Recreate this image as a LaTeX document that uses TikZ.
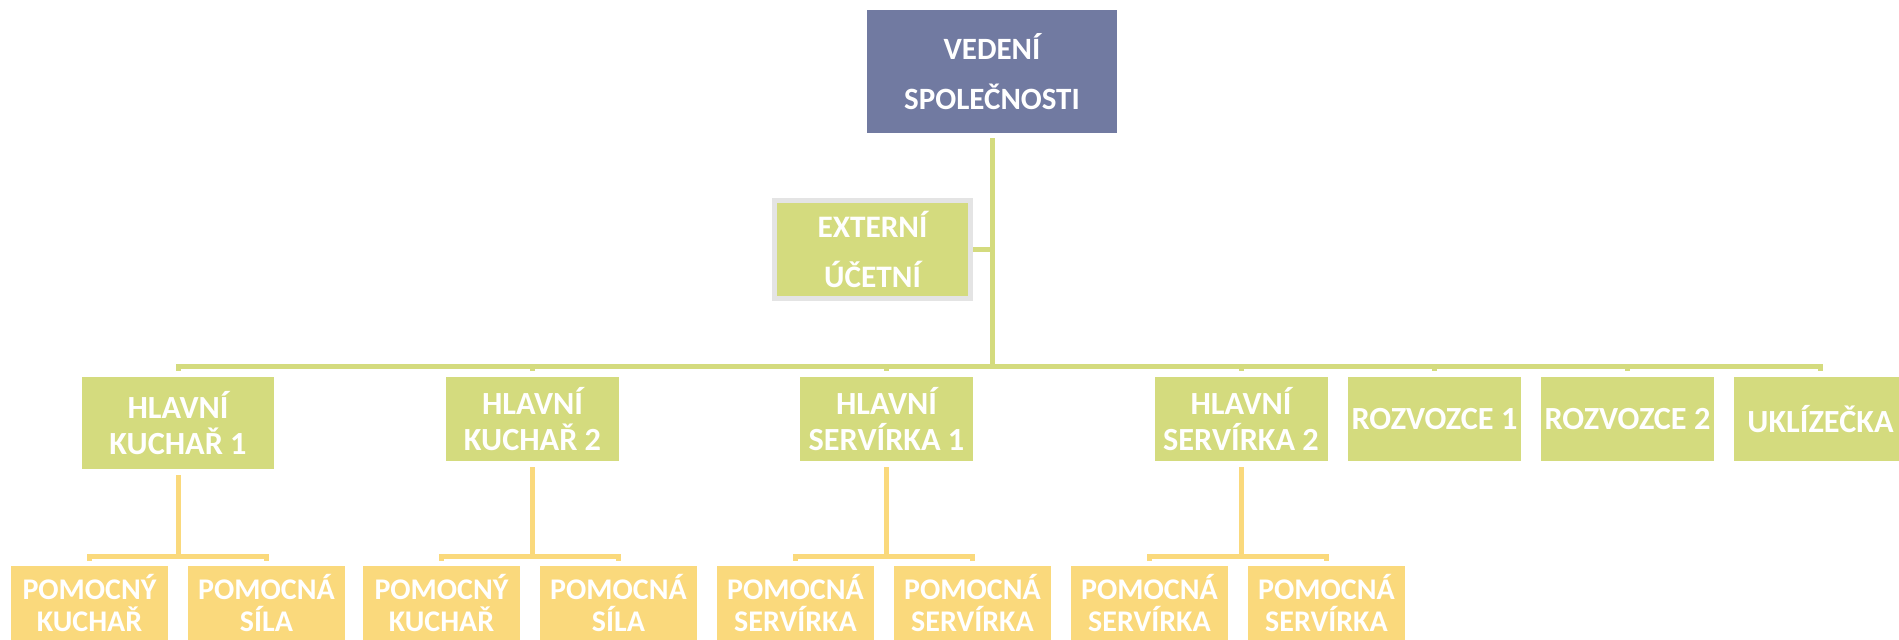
\documentclass[tikz,border=0pt]{standalone}
\usepackage{fontspec}
\setmainfont{Carlito}
\usepackage{xcolor}
\usetikzlibrary{calc}

\definecolor{headblue}{HTML}{717AA1}
\definecolor{leafgreen}{HTML}{D4DB7E}
\definecolor{leafyellow}{HTML}{FAD97C}
\definecolor{framegray}{HTML}{E4E4E4}

\begin{document}
\begin{tikzpicture}[x=1pt,y=1pt,
	box/.style={text=white,align=center,inner sep=0pt},
	headbox/.style={box,fill=headblue,minimum width=250pt,minimum height=123pt,
		font=\fontsize{31}{50}\selectfont\bfseries},
	sidebox/.style={box,fill=leafgreen,draw=framegray,line width=5pt,
		minimum width=196pt,minimum height=98pt,
		font=\fontsize{31.3}{50}\selectfont\bfseries},
	midbox/.style={box,fill=leafgreen,minimum width=173pt,minimum height=84pt,
		font=\fontsize{32.3}{36}\selectfont\bfseries},
	lowbox/.style={box,fill=leafyellow,minimum width=157pt,minimum height=74pt,
		font=\fontsize{30}{31.5}\selectfont\bfseries},
	gline/.style={leafgreen,line width=5pt},
	yline/.style={leafyellow,line width=5pt}]
	\useasboundingbox (0,0) rectangle (1899,-640);
	
	% top level
	\node[headbox] (V) at (992,-71.5) {VEDENÍ\\SPOLEČNOSTI};
	\node[sidebox] (U) at (872.5,-249.5) {EXTERNÍ\\ÚČETNÍ};
	
	% second level
	\node[midbox,minimum width=192pt,minimum height=92pt] (K1) at (178,-423) {HLAVNÍ\\KUCHAŘ 1};
	\node[midbox] (K2) at (532.5,-419) {HLAVNÍ\\KUCHAŘ 2};
	\node[midbox] (S1) at (886.5,-419) {HLAVNÍ\\SERVÍRKA 1};
	\node[midbox] (S2) at (1241,-419) {HLAVNÍ\\SERVÍRKA 2};
	\node[midbox] (R1) at (1434.5,-419) {ROZVOZCE 1};
	\node[midbox] (R2) at (1627.5,-419) {ROZVOZCE 2};
	\node[midbox] (L) at (1820.5,-419) {UKLÍZEČKA};
	
	% third level
	\node[lowbox] (K1a) at (89.5,-603) {POMOCNÝ\\KUCHAŘ};
	\node[lowbox] (K1b) at (266.5,-603) {POMOCNÁ\\SÍLA};
	\node[lowbox] (K2a) at (441.5,-603) {POMOCNÝ\\KUCHAŘ};
	\node[lowbox] (K2b) at (618.5,-603) {POMOCNÁ\\SÍLA};
	\node[lowbox] (S1a) at (795.5,-603) {POMOCNÁ\\SERVÍRKA};
	\node[lowbox] (S1b) at (972.5,-603) {POMOCNÁ\\SERVÍRKA};
	\node[lowbox] (S2a) at (1149.5,-603) {POMOCNÁ\\SERVÍRKA};
	\node[lowbox] (S2b) at (1326.5,-603) {POMOCNÁ\\SERVÍRKA};
	
	% connectors from the top
	\draw[gline] (U.east) -- (U.east -| V.south);
	\draw[gline] ([yshift=-5pt]V.south) |- ([yshift=10pt]K1.north) -- ([yshift=6pt]K1.north);
	\draw[gline] ([yshift=-5pt]V.south) |- ([yshift=10pt]K2.north) -- ([yshift=6pt]K2.north);
	\draw[gline] ([yshift=-5pt]V.south) |- ([yshift=10pt]S1.north) -- ([yshift=6pt]S1.north);
	\draw[gline] ([yshift=-5pt]V.south) |- ([yshift=10pt]S2.north) -- ([yshift=6pt]S2.north);
	\draw[gline] ([yshift=-5pt]V.south) |- ([yshift=10pt]R1.north) -- ([yshift=6pt]R1.north);
	\draw[gline] ([yshift=-5pt]V.south) |- ([yshift=10pt]R2.north) -- ([yshift=6pt]R2.north);
	\draw[gline] ([yshift=-5pt]V.south) |- ([yshift=10pt]L.north) -- ([yshift=6pt]L.north);
	
	% connectors to the helpers
	\draw[yline] ([yshift=-6pt]K1.south) |- ([yshift=9.5pt]K1a.north) -- ([yshift=5pt]K1a.north);
	\draw[yline] ([yshift=-6pt]K1.south) |- ([yshift=9.5pt]K1b.north) -- ([yshift=5pt]K1b.north);
	\draw[yline] ([yshift=-6pt]K2.south) |- ([yshift=9.5pt]K2a.north) -- ([yshift=5pt]K2a.north);
	\draw[yline] ([yshift=-6pt]K2.south) |- ([yshift=9.5pt]K2b.north) -- ([yshift=5pt]K2b.north);
	\draw[yline] ([yshift=-6pt]S1.south) |- ([yshift=9.5pt]S1a.north) -- ([yshift=5pt]S1a.north);
	\draw[yline] ([yshift=-6pt]S1.south) |- ([yshift=9.5pt]S1b.north) -- ([yshift=5pt]S1b.north);
	\draw[yline] ([yshift=-6pt]S2.south) |- ([yshift=9.5pt]S2a.north) -- ([yshift=5pt]S2a.north);
	\draw[yline] ([yshift=-6pt]S2.south) |- ([yshift=9.5pt]S2b.north) -- ([yshift=5pt]S2b.north);
\end{tikzpicture}
\end{document}
